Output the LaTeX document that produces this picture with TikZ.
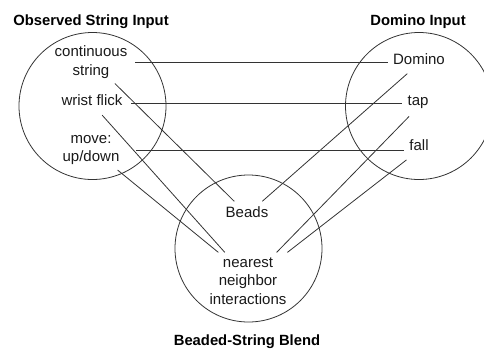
\documentclass[tikz,border=0pt]{standalone}
\usepackage{fontspec}
\setmainfont{Liberation Sans}
\usetikzlibrary{positioning}
\tikzset{
    x=1pt, y=-1pt, % coordinates as in the picture, y grows downwards
    mentalspace/.style={ % the three circles
        circle,
        draw,
        line width=0.8pt,
        black!80,
        minimum size=147pt,
        inner sep=0pt
    },
    element/.style={ % entries inside the circles
        align=center,
        inner sep=5pt,
        text=black!90,
        font=\fontsize{15}{18.5}\selectfont
    },
    spacetitle/.style={ % bold headings
        inner sep=0pt,
        font=\fontsize{14.8}{18}\selectfont\bfseries
    },
    every edge/.style={ % the mappings
        draw,
        line width=0.8pt,
        black!80
    }
}

\begin{document}
\begin{tikzpicture}[node distance=326.5pt]
        \useasboundingbox (0,0) rectangle (484,349);
        % kreise
        \node[mentalspace] at (92.5,106)         (obsspace)   {};
        \node[mentalspace, right of=obsspace]    (domspace)   {};
        \node[mentalspace, on grid,
              below right=142.5pt and 156pt of obsspace] (blendspace) {};
        % ueberschriften
        \node[spacetitle] at (91,21.5)   (obstitle)   {Observed String Input};
        \node[spacetitle] at (418,21.5)  (domtitle)   {Domino Input};
        \node[spacetitle] at (247,341.5) (blendtitle) {Beaded-String Blend};
        % linker kreis
        \node[element] at (91,62)    (cs)     {continuous\\string};
        \node[element] at (92,100)   (wf)     {wrist flick};
        \node[element] at (91,150)   (mv)     {move:\\up/down};
        % rechter kreis
        \node[element] at (419,59)   (domino) {Domino};
        \node[element] at (418,102)  (tap)    {tap};
        \node[element] at (419,145.5) (fall)  {fall};
        % unterer kreis
        \node[element] at (247,212)  (beads)  {Beads};
        \node[element] at (248,281)  (nni)    {nearest\\neighbor\\interactions};

        \draw
                % waagerecht
                (cs.east)     edge[shorten <=3pt]    (cs.east -| domino.west)
                (wf.-5)       edge[shorten <=3.5pt]  (wf.-5 -| tap.west)
                (mv.east)     edge[shorten <=11.5pt] (mv.east -| fall.west)
                % von links in den blend
                (cs.-42)      edge                   (beads.140)
                (wf.-60)      edge[shorten <=6pt]    (nni.129)
                (mv.-37)      edge                   (nni.136)
                % von rechts in den blend
                (domino.-124) edge[shorten <=6pt]    (beads.35)
                (tap.-118)    edge[shorten <=4pt]    (nni.45)
                (fall.-126)   edge[shorten <=6pt]    (nni.36)
        ;
\end{tikzpicture}
\end{document}
